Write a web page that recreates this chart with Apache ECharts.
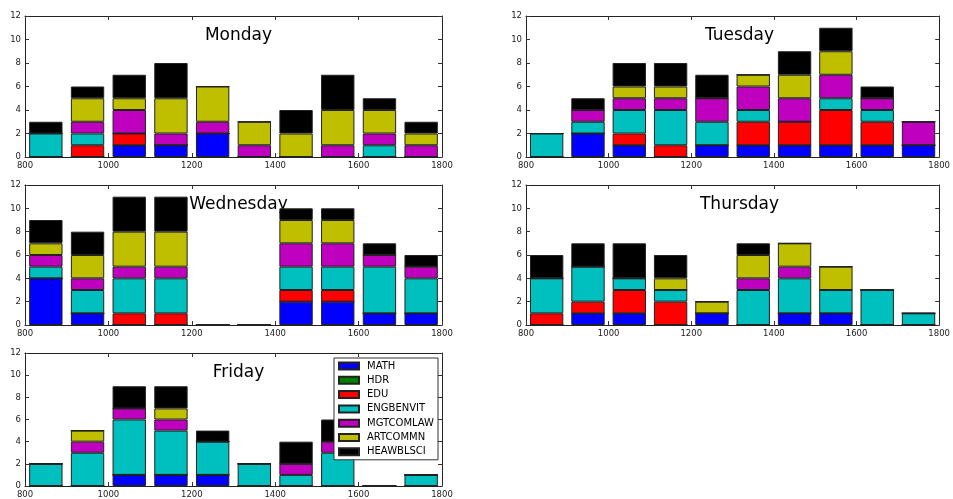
<!DOCTYPE html>
<html><head><meta charset="utf-8">
<script src="https://cdn.jsdelivr.net/npm/echarts@6/dist/echarts.min.js"></script>
<style>html,body{margin:0;padding:0;background:#fff}#c{width:953px;height:499px}</style>
</head><body><div id="c"></div>
<script>
const subjects = ['MATH','HDR','EDU','ENGBENVIT','MGTCOMLAW','ARTCOMMN','HEAWBLSCI'];
const colors = ['#0000ff','#008000','#ff0000','#00bfbf','#bf00bf','#bfbf00','#000000'];
const slotStarts = [800,900,1000,1100,1200,1300,1400,1500,1600,1700];
const days = ['Monday','Tuesday','Wednesday','Thursday','Friday'];
const xMin = 800, xMax = 1800, xStep = 200;
const yMin = 0, yMax = 12, yStep = 2;
// rows: MATH, HDR, EDU, ENGBENVIT, MGTCOMLAW, ARTCOMMN, HEAWBLSCI
const monday = [
  [0,0,1,1,2,0,0,0,0,0],
  [0,0,0,0,0,0,0,0,0,0],
  [0,1,1,0,0,0,0,0,0,0],
  [2,1,0,0,0,0,0,0,1,0],
  [0,1,2,1,1,1,0,1,1,1],
  [0,2,1,3,3,2,2,3,2,1],
  [1,1,2,3,0,0,2,3,1,1]];
const tuesday = [
  [0,2,1,0,1,1,1,1,1,1],
  [0,0,0,0,0,0,0,0,0,0],
  [0,0,1,1,0,2,2,3,2,0],
  [2,1,2,3,2,1,0,1,1,0],
  [0,1,1,1,2,2,2,2,1,2],
  [0,0,1,1,0,1,2,2,0,0],
  [0,1,2,2,2,0,2,2,1,0]];
const wednesday = [
  [4,1,0,0,0,0,2,2,1,1],
  [0,0,0,0,0,0,0,0,0,0],
  [0,0,1,1,0,0,1,1,0,0],
  [1,2,3,3,0,0,2,2,4,3],
  [1,1,1,1,0,0,2,2,1,1],
  [1,2,3,3,0,0,2,2,0,0],
  [2,2,3,3,0,0,1,1,1,1]];
const thursday = [
  [0,1,1,0,1,0,1,1,0,0],
  [0,0,0,0,0,0,0,0,0,0],
  [1,1,2,2,0,0,0,0,0,0],
  [3,3,1,1,0,3,3,2,3,1],
  [0,0,0,0,0,1,1,0,0,0],
  [0,0,0,1,1,2,2,2,0,0],
  [2,2,3,2,0,1,0,0,0,0]];
const friday = [
  [0,0,1,1,1,0,0,0,0,0],
  [0,0,0,0,0,0,0,0,0,0],
  [0,0,0,0,0,0,0,0,0,0],
  [2,3,5,4,3,2,1,3,0,1],
  [0,1,1,1,0,0,1,1,0,0],
  [0,1,0,1,0,0,0,0,0,0],
  [0,0,2,2,1,0,2,2,0,0]];
const dayData = [monday, tuesday, wednesday, thursday, friday];

const FONT = 'DejaVu Sans';
const grids = [
  {left:25, top:16, width:417, height:141},
  {left:526, top:16, width:417, height:141},
  {left:25, top:185, width:417, height:140},
  {left:526, top:185, width:417, height:140},
  {left:25, top:353, width:417, height:141}
];
const barUnits = 80;

const xAxes = [], yAxes = [], series = [], titles = [];
grids.forEach((g, i) => {
  const common = {gridIndex:i, type:'value', splitLine:{show:false},
    axisLine:{show:true, onZero:false, lineStyle:{color:'#222', width:1}},
    axisTick:{show:true, inside:true, length:4, lineStyle:{color:'#333'}}};
  xAxes.push(Object.assign({}, common, {position:'bottom', min:xMin, max:xMax, interval:xStep,
    axisLabel:{fontFamily:FONT, fontSize:8.5, color:'#222', margin:4, showMaxLabel:true, showMinLabel:true,
      formatter: v => String(v)}}));
  xAxes.push(Object.assign({}, common, {position:'top', min:xMin, max:xMax, interval:xStep, axisLabel:{show:false}}));
  xAxes.push({gridIndex:i, type:'category', data:slotStarts.map(String), show:false, boundaryGap:true});
  yAxes.push(Object.assign({}, common, {position:'left', min:yMin, max:yMax, interval:yStep,
    axisLabel:{fontFamily:FONT, fontSize:8.5, color:'#222', margin:4}}));
  yAxes.push(Object.assign({}, common, {position:'right', min:yMin, max:yMax, interval:yStep, axisLabel:{show:false}}));
  titles.push({text:days[i], left:g.left + g.width/2, top:g.top + 6, textAlign:'center', z:0, zlevel:0,
    textStyle:{fontFamily:FONT, fontSize:17, fontWeight:'normal', color:'#000'}});
  const bw = barUnits / (xMax - xMin) * g.width;
  subjects.forEach((s, k) => {
    series.push({
      name:s, type:'bar', stack:'day'+i, xAxisIndex:3*i+2, yAxisIndex:2*i,
      barWidth:bw, z:3,
      itemStyle:{color:colors[k], borderColor:'#222', borderWidth:1},
      emphasis:{disabled:true},
      data: dayData[i][k]
    });
  });
});

const chart = echarts.init(document.getElementById('c'), null, {renderer:'canvas'});
chart.setOption({
  animation:false,
  backgroundColor:'#fff',
  title:titles,
  grid:grids,
  xAxis:xAxes,
  yAxis:yAxes,
  legend:{data:subjects, orient:'vertical', left:334, top:358, itemWidth:20, itemHeight:7, itemGap:4.3,
    padding:[3,4,3,4], icon:'rect', backgroundColor:'#fff', borderColor:'#333', borderWidth:1, z:10,
    textStyle:{fontFamily:FONT, fontSize:10, color:'#000', lineHeight:10, padding:[0,0,0,3]}},
  series:series
});
</script>
</body></html>
